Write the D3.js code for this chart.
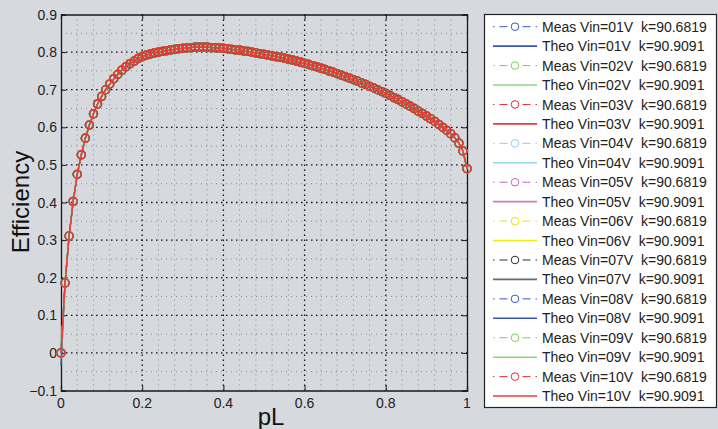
<!DOCTYPE html>
<html>
<head>
<meta charset="utf-8">
<script src="https://cdn.jsdelivr.net/npm/d3@7"></script>
<style>
  html, body { margin: 0; padding: 0; background: #d6d9de; }
  svg { display: block; font-family: "Liberation Sans", Arial, Helvetica, sans-serif; }
  text { white-space: pre; }
</style>
</head>
<body>
<svg id="chart" width="718" height="429"></svg>
<script>
// ---- data ----
const pL = d3.range(0, 101).map(i => i / 100);
const measEff = [
  0.000, 0.186, 0.311, 0.403, 0.475, 0.527, 0.571, 0.606, 0.636, 0.662,
  0.682, 0.700, 0.715, 0.729, 0.741, 0.752, 0.761, 0.769, 0.776, 0.783,
  0.788, 0.792, 0.795, 0.798, 0.800, 0.802, 0.804, 0.806, 0.807, 0.809,
  0.810, 0.811, 0.812, 0.813, 0.813, 0.813, 0.813, 0.812, 0.812, 0.811,
  0.810, 0.809, 0.807, 0.806, 0.805, 0.803, 0.802, 0.800, 0.798, 0.796,
  0.794, 0.792, 0.790, 0.788, 0.786, 0.784, 0.781, 0.779, 0.776, 0.773,
  0.770, 0.767, 0.764, 0.761, 0.757, 0.754, 0.750, 0.747, 0.743, 0.739,
  0.735, 0.731, 0.727, 0.723, 0.718, 0.714, 0.709, 0.705, 0.700, 0.695,
  0.690, 0.685, 0.679, 0.674, 0.668, 0.662, 0.656, 0.650, 0.643, 0.637,
  0.630, 0.623, 0.616, 0.608, 0.600, 0.592, 0.583, 0.572, 0.558, 0.537,
  0.490
];
const theoEff = measEff.slice();
const theoEffAtZero = [-0.035, 0, 0, 0, 0, 0, 0, 0, 0, 0];
const vinLabels = ["01", "02", "03", "04", "05", "06", "07", "08", "09", "10"];
const kMeas = "90.6819";
const kTheo = "90.9091";
const xTicks = [0, 0.2, 0.4, 0.6, 0.8, 1];
const xTickLabels = ["0", "0.2", "0.4", "0.6", "0.8", "1"];
const yTicks = [-0.1, 0, 0.1, 0.2, 0.3, 0.4, 0.5, 0.6, 0.7, 0.8, 0.9];
const yTickLabels = ["\u22120.1", "0", "0.1", "0.2", "0.3", "0.4", "0.5", "0.6", "0.7", "0.8", "0.9"];
const xMinor = [0.04, 0.08, 0.12, 0.16, 0.24, 0.28, 0.32, 0.36, 0.44, 0.48, 0.52, 0.56, 0.64, 0.68, 0.72, 0.76, 0.84, 0.88, 0.92, 0.96];
const yMinor = [-0.05, 0.05, 0.15, 0.25, 0.35, 0.45, 0.55, 0.65, 0.75, 0.85];

(function () {
// ---- styles ----
const measColors = ["#3a5ac4", "#7ccc5a", "#e2302a", "#86d6e6", "#c667b6", "#ece400", "#2e2e2e", "#3a5ac4", "#7ccc5a", "#e2302a"];
const theoColors = ["#3355bb", "#90d478", "#ee3a36", "#8edbea", "#cf7ec2", "#f2ea10", "#6a6a6a", "#3355bb", "#90d478", "#ee3a36"];

const svg = d3.select("#chart");
const pLeft = 61, pRight = 467, pTop = 14.5, pBottom = 390.5;
const x = d3.scaleLinear().domain([0, 1]).range([pLeft, pRight]);
const y = d3.scaleLinear().domain([-0.1, 0.9]).range([pBottom, pTop]);

// minor grid
const g = svg.append("g");
g.selectAll(".vmin").data(xMinor).join("line")
  .attr("x1", d => x(d)).attr("x2", d => x(d)).attr("y1", pTop).attr("y2", pBottom)
  .attr("stroke", "#8a8c90").attr("stroke-width", 1).attr("stroke-dasharray", "1,4");
g.selectAll(".hmin").data(yMinor).join("line")
  .attr("y1", d => y(d)).attr("y2", d => y(d)).attr("x1", pLeft).attr("x2", pRight)
  .attr("stroke", "#8a8c90").attr("stroke-width", 1).attr("stroke-dasharray", "1,4");
// major grid
g.selectAll(".vmaj").data(xTicks.slice(1, -1)).join("line")
  .attr("x1", d => x(d)).attr("x2", d => x(d)).attr("y1", pTop).attr("y2", pBottom)
  .attr("stroke", "#111").attr("stroke-width", 1.3).attr("stroke-dasharray", "1.5,3.5");
g.selectAll(".hmaj").data(yTicks.slice(1, -1)).join("line")
  .attr("y1", d => y(d)).attr("y2", d => y(d)).attr("x1", pLeft).attr("x2", pRight)
  .attr("stroke", "#111").attr("stroke-width", 1.3).attr("stroke-dasharray", "1.5,3.5");

// axes with inward ticks
const axB = d3.axisBottom(x).tickValues(xTicks).tickSize(-5).tickFormat("");
const axT = d3.axisTop(x).tickValues(xTicks).tickSize(-5).tickFormat("");
const axL = d3.axisLeft(y).tickValues(yTicks).tickSize(-5).tickFormat("");
const axR = d3.axisRight(y).tickValues(yTicks).tickSize(-5).tickFormat("");
[[axB, `translate(0,${pBottom})`], [axT, `translate(0,${pTop})`], [axL, `translate(${pLeft},0)`], [axR, `translate(${pRight},0)`]].forEach(([ax, tr]) => {
  const a = svg.append("g").attr("transform", tr).call(ax);
  a.select(".domain").attr("stroke", "#1a1a1a").attr("stroke-width", 1.3);
  a.selectAll(".tick line").attr("stroke", "#1a1a1a");
});

// tick labels
svg.append("g").selectAll("text").data(xTicks).join("text")
  .attr("x", d => x(d)).attr("y", 408).attr("text-anchor", "middle")
  .attr("font-size", 14).attr("fill", "#222").text((d, i) => xTickLabels[i]);
svg.append("g").selectAll("text").data(yTicks).join("text")
  .attr("x", 57).attr("y", d => y(d)).attr("dy", "0.36em").attr("text-anchor", "end")
  .attr("font-size", 14).attr("fill", "#222").text((d, i) => yTickLabels[i]);

// axis titles
svg.append("text").attr("x", 271).attr("y", 425).attr("text-anchor", "middle")
  .attr("font-size", 24).attr("fill", "#111").text("pL");
svg.append("text").attr("transform", "translate(29,202) rotate(-90)").attr("text-anchor", "middle")
  .attr("font-size", 24).attr("fill", "#111").text("Efficiency");

// data series
const line = d3.line().x(d => x(d[0])).y(d => y(d[1]));
const plot = svg.append("g");
vinLabels.forEach((v, i) => {
  const meas = pL.map((p, j) => [p, measEff[j]]);
  plot.append("path").datum(meas).attr("d", line).attr("fill", "none")
    .attr("stroke", measColors[i]).attr("stroke-width", 1).attr("stroke-dasharray", "6,3,1.5,3");
  plot.append("g").selectAll("circle").data(meas).join("circle")
    .attr("cx", d => x(d[0])).attr("cy", d => y(d[1])).attr("r", 4)
    .attr("fill", "none").attr("stroke", measColors[i]).attr("stroke-width", 1.3);
  const theo = pL.map((p, j) => [p, j === 0 ? theoEffAtZero[i] : theoEff[j]]);
  plot.append("path").datum(theo).attr("d", line).attr("fill", "none")
    .attr("stroke", theoColors[i]).attr("stroke-width", 1.3);
});

// legend
const lg = svg.append("g");
lg.append("rect").attr("x", 484.5).attr("y", 14.5).attr("width", 232).attr("height", 393)
  .attr("fill", "#fff").attr("stroke", "#222").attr("stroke-width", 1.2);
const rowY = k => 26.7 + k * 19.44;
vinLabels.forEach((v, i) => {
  const ym = rowY(2 * i), yt = rowY(2 * i + 1);
  lg.append("path").attr("d", `M493,${ym}H515`).attr("stroke", measColors[i]).attr("stroke-width", 1)
    .attr("stroke-dasharray", "1.5,5,8,30").attr("fill", "none");
  lg.append("path").attr("d", `M537,${ym}H515`).attr("stroke", measColors[i]).attr("stroke-width", 1)
    .attr("stroke-dasharray", "1.5,5,8,30").attr("fill", "none");
  lg.append("circle").attr("cx", 515).attr("cy", ym).attr("r", 3.8)
    .attr("fill", "none").attr("stroke", measColors[i]).attr("stroke-width", 1);
  lg.append("text").attr("x", 542).attr("y", ym).attr("dy", "0.36em")
    .attr("font-size", 14).attr("fill", "#222").text(`Meas Vin=${v}V  k=${kMeas}`);
  lg.append("line").attr("x1", 493).attr("x2", 537).attr("y1", yt).attr("y2", yt)
    .attr("stroke", theoColors[i]).attr("stroke-width", 1.6);
  lg.append("text").attr("x", 542).attr("y", yt).attr("dy", "0.36em")
    .attr("font-size", 14).attr("fill", "#222").text(`Theo Vin=${v}V  k=${kTheo}`);
});
})();
</script>
</body>
</html>
